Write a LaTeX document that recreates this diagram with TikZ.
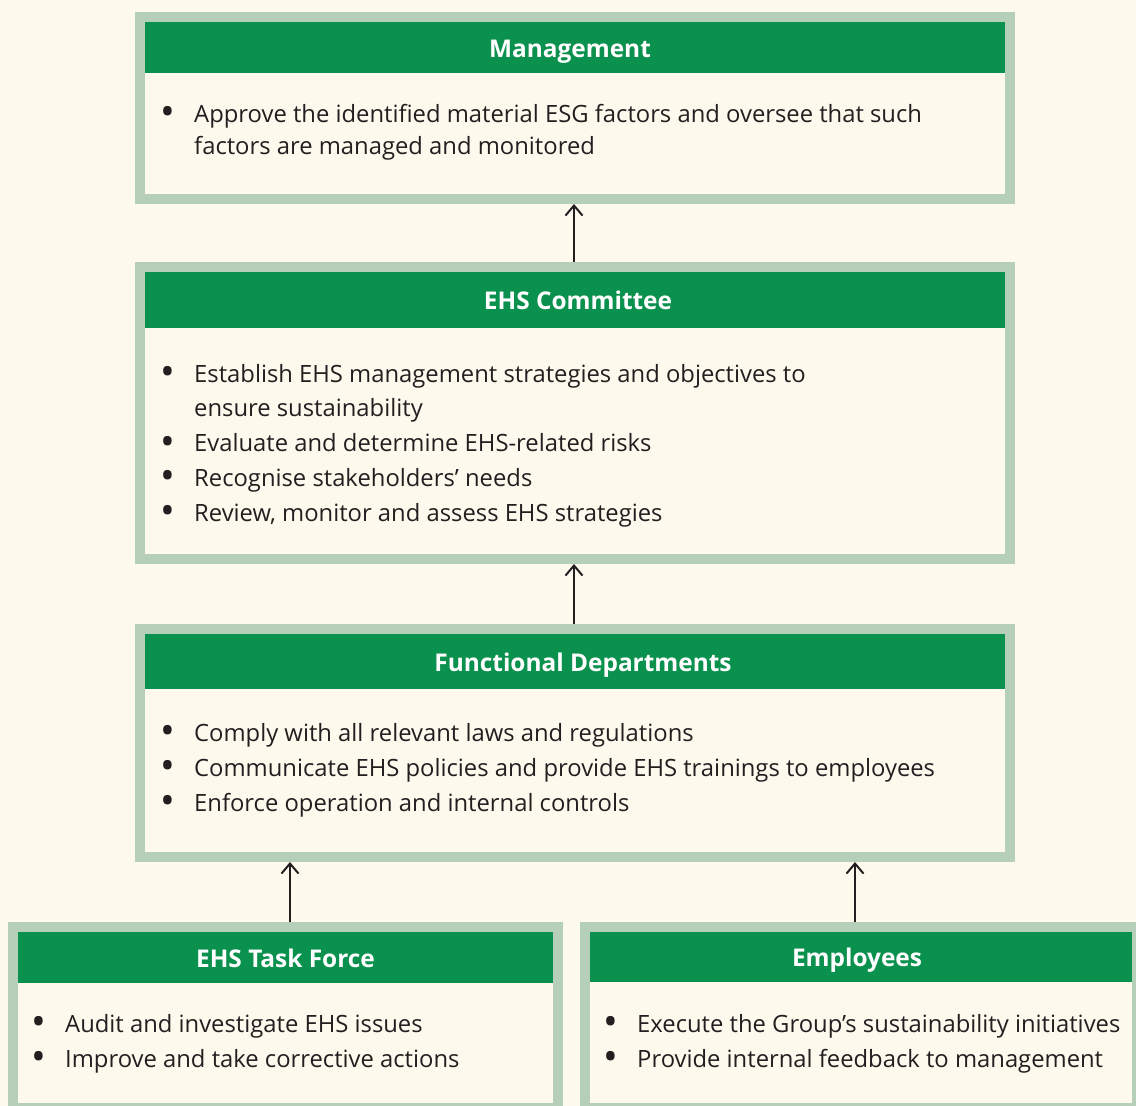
\documentclass[tikz,border=0pt]{standalone}
\usepackage{fontspec}
\setmainfont{Open Sans}
\usetikzlibrary{arrows.meta}
\definecolor{bgcream}{HTML}{FEF9ED}
\definecolor{framegreen}{HTML}{B6CFB8}
\definecolor{headgreen}{HTML}{0B914E}
\definecolor{inkdark}{HTML}{231F20}
% bullet lines with hanging indent, first baseline on top
\newcommand\itm[1]{\par\hangindent=33.5pt\hangafter=1\noindent\makebox[33.5pt][l]{\smash{\raisebox{-3.6pt}{\scalebox{1.65}{\textbullet}}}}#1}
\newcommand\bullist[2]{\vtop{\hsize=#1\raggedright\parindent=0pt #2}}
\tikzset{
	boxframe/.style={draw=framegreen, line width=10pt, fill=bgcream, inner sep=0pt},
	headbar/.style={fill=headgreen, text=white, inner sep=0pt, outer sep=0pt, anchor=north,
		text height=19.6pt, text depth=0pt, font=\fontsize{24.4}{28}\selectfont\bfseries},
	bodytext/.style={anchor=base west, inner sep=0pt, text=inkdark, font=\fontsize{23.8}{35}\selectfont},
	arr/.style={-{Straight Barb[length=10pt,width=17pt]}, line width=2pt, draw=inkdark}
}
\begin{document}
\begin{tikzpicture}[x=1pt,y=-1pt]
		% page
			\useasboundingbox (0,0) rectangle (1136,1106);
			\fill[bgcream] (0,0) rectangle (1136,1106);
		% boxes
			\node[boxframe, minimum width=870pt, minimum height=182pt] (mgmt) at (575,108) {};
			\node[boxframe, minimum width=870pt, minimum height=292pt] (comm) at (575,413) {};
			\node[boxframe, minimum width=870pt, minimum height=228pt] (func) at (575,743) {};
			\node[boxframe, minimum width=545pt, minimum height=181pt] (task) at (285.5,1017.5) {};
			\node[boxframe, minimum width=552pt, minimum height=181pt] (emp) at (861,1017.5) {};
		% headers
			\node[headbar, minimum width=860pt, minimum height=51pt] (mgmt-h) at ([yshift=-10pt]mgmt.north) {\hspace*{-10pt}Management};
			\node[headbar, minimum width=860pt, minimum height=56pt] (comm-h) at ([yshift=-10pt]comm.north) {\hspace*{6pt}EHS Committee};
			\node[headbar, minimum width=860pt, minimum height=55pt] (func-h) at ([yshift=-10pt]func.north) {\hspace*{16pt}Functional Departments};
			\node[headbar, minimum width=535pt, minimum height=51pt] (task-h) at ([yshift=-10pt]task.north) {EHS Task Force};
			\node[headbar, minimum width=542pt, minimum height=50pt] (emp-h) at ([yshift=-10pt]emp.north) {\hspace*{-8pt}Employees};
		% bullet texts
			\node[bodytext, font=\fontsize{23.8}{32}\selectfont] (mgmt-t) at (160.5,122) {\bullist{840pt}{%
				\itm{Approve the identified material ESG factors and oversee that such\newline factors are managed and monitored}}};
			\node[bodytext, font=\fontsize{23.8}{34.75}\selectfont] (comm-t) at (160.5,382) {\bullist{840pt}{%
				\itm{Establish EHS management strategies and objectives to\newline ensure sustainability}
				\itm{Evaluate and determine EHS-related risks}
				\itm{Recognise stakeholders’ needs}
				\itm{Review, monitor and assess EHS strategies}}};
			\node[bodytext] (func-t) at (160.5,741) {\bullist{840pt}{%
				\itm{Comply with all relevant laws and regulations}
				\itm{Communicate EHS policies and provide EHS trainings to employees}
				\itm{Enforce operation and internal controls}}};
			\node[bodytext] (task-t) at (31.5,1032) {\bullist{520pt}{%
				\itm{Audit and investigate EHS issues}
				\itm{Improve and take corrective actions}}};
			\node[bodytext] (emp-t) at (603.5,1032) {\bullist{540pt}{%
				\itm{Execute the Group’s sustainability initiatives}
				\itm{Provide internal feedback to management}}};
		% reporting lines
			\draw[arr] ([xshift=-1pt]comm.north) -- ([xshift=-1pt]mgmt.south);
			\draw[arr] ([xshift=-1pt]func.north) -- ([xshift=-1pt]comm.south);
			\draw[arr] ([xshift=4.5pt]task.north) -- ([xshift=4.5pt]task.north |- func.south);
			\draw[arr] ([xshift=-6pt]emp.north) -- ([xshift=-6pt]emp.north |- func.south);
	\end{tikzpicture}
\end{document}
